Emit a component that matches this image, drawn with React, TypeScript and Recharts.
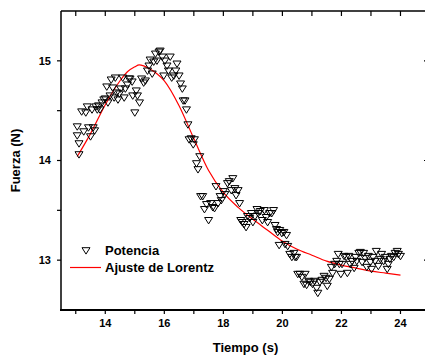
import { ComposedChart, Scatter, Line, XAxis, YAxis, ReferenceLine } from "recharts"

const tiempo = [
  13.05, 13.05, 13.11, 13.11, 13.2, 13.27, 13.34, 13.39, 13.43, 13.5, 13.55, 13.59, 13.64, 13.68, 13.73,
  13.77, 13.82, 13.89, 13.95, 14.0, 14.05, 14.09, 14.16, 14.2, 14.25, 14.3, 14.34, 14.39, 14.43, 14.48,
  14.52, 14.59, 14.64, 14.68, 14.75, 14.8, 14.84, 14.91, 14.93, 15.0, 15.05, 15.09, 15.16, 15.23, 15.3,
  15.36, 15.43, 15.48, 15.52, 15.59, 15.64, 15.7, 15.75, 15.82, 15.86, 15.93, 15.98, 16.02, 16.09, 16.14,
  16.2, 16.25, 16.32, 16.39, 16.43, 16.5, 16.55, 16.61, 16.64, 16.7, 16.75, 16.8, 16.84, 16.91, 16.98,
  17.02, 17.09, 17.14, 17.2, 17.23, 17.3, 17.36, 17.43, 17.5, 17.57, 17.64, 17.7, 17.75, 17.82, 17.89,
  17.93, 18.0, 18.05, 18.14, 18.2, 18.27, 18.32, 18.39, 18.43, 18.5, 18.55, 18.59, 18.64, 18.7, 18.77,
  18.82, 18.89, 18.95, 19.0, 19.07, 19.14, 19.18, 19.25, 19.32, 19.39, 19.45, 19.5, 19.57, 19.64, 19.7,
  19.75, 19.8, 19.84, 19.89, 19.91, 19.98, 20.05, 20.09, 20.14, 20.18, 20.25, 20.32, 20.39, 20.43, 20.48,
  20.52, 20.59, 20.66, 20.73, 20.77, 20.82, 20.89, 20.95, 21.02, 21.09, 21.16, 21.2, 21.27, 21.34, 21.41,
  21.48, 21.52, 21.59, 21.66, 21.7, 21.77, 21.84, 21.89, 21.93, 21.98, 22.02, 22.09, 22.16, 22.2, 22.25,
  22.3, 22.36, 22.43, 22.48, 22.52, 22.59, 22.64, 22.7, 22.75, 22.8, 22.86, 22.91, 22.98, 23.02, 23.07,
  23.14, 23.18, 23.25, 23.32, 23.36, 23.43, 23.48, 23.55, 23.59, 23.64, 23.7, 23.77, 23.82, 23.89, 23.93,
  24.0,
]

const potencia = [
  14.25, 14.34, 14.06, 14.17, 14.49, 14.29, 14.48, 14.54, 14.33, 14.24, 14.51, 14.33, 14.3, 14.54, 14.51,
  14.55, 14.51, 14.58, 14.61, 14.62, 14.74, 14.58, 14.65, 14.81, 14.73, 14.63, 14.83, 14.68, 14.61, 14.67,
  14.72, 14.83, 14.63, 14.72, 14.76, 14.82, 14.82, 14.79, 14.65, 14.48, 14.7, 14.65, 14.58, 14.82, 14.78,
  14.8, 14.9, 14.95, 15.01, 14.87, 14.99, 15.07, 15.0, 15.09, 15.1, 15.04, 14.85, 15.0, 14.95, 14.9,
  15.04, 14.83, 14.85, 14.9, 14.97, 14.85, 14.77, 14.72, 14.6, 14.6, 14.51, 14.36, 14.21, 14.22, 14.16,
  14.21, 13.97, 13.91, 14.04, 13.64, 13.64, 13.51, 13.56, 13.4, 13.57, 13.53, 13.52, 13.74, 13.57, 13.64,
  13.6, 13.69, 13.66, 13.77, 13.79, 13.7, 13.82, 13.72, 13.65, 13.7, 13.57, 13.4, 13.38, 13.36, 13.33,
  13.44, 13.42, 13.47, 13.38, 13.44, 13.51, 13.47, 13.49, 13.4, 13.5, 13.43, 13.38, 13.47, 13.47, 13.5,
  13.35, 13.31, 13.28, 13.15, 13.3, 13.27, 13.28, 13.16, 13.25, 13.14, 13.06, 13.03, 13.07, 13.03, 13.03,
  12.86, 12.86, 12.83, 12.76, 12.86, 12.75, 12.79, 12.78, 12.76, 12.79, 12.72, 12.67, 12.78, 12.8, 12.84,
  12.82, 12.74, 12.81, 12.93, 12.87, 12.96, 12.99, 13.06, 12.96, 12.86, 12.96, 13.04, 13.03, 12.87, 13.04,
  12.96, 12.99, 12.92, 13.03, 12.99, 13.07, 13.08, 12.98, 13.07, 13.02, 12.93, 13.04, 12.98, 12.91, 13.03,
  12.99, 13.09, 12.94, 13.01, 13.06, 12.99, 13.03, 12.91, 12.96, 13.01, 13.04, 13.03, 13.07, 13.09, 13.06,
  13.04,
]

const ajusteX = [
  13.05, 13.5, 14.0, 14.5, 14.75, 15.0, 15.15, 15.3, 15.5, 15.75, 16.0, 16.5, 17.0, 17.5, 18.0, 18.5,
  19.0, 19.5, 20.0, 20.5, 21.0, 21.5, 22.0, 22.5, 23.0, 23.5, 24.0,
]
const ajusteY = [
  14.04, 14.27, 14.56, 14.8, 14.89, 14.94, 14.96, 14.95, 14.92, 14.87, 14.8, 14.55, 14.22, 13.9, 13.68,
  13.53, 13.41, 13.3, 13.19, 13.11, 13.05, 12.99, 12.95, 12.92, 12.89, 12.87, 12.85,
]

const xTicks = [13, 14, 15, 16, 17, 18, 19, 20, 21, 22, 23, 24]
const yTicks = [13, 13.5, 14, 14.5, 15]
const yMajor = [13, 14, 15]
const yMinor = [13.5, 14.5]

const puntos = tiempo.map((t, i) => ({ x: t, y: potencia[i] }))
const ajuste = ajusteX.map((t, i) => ({ x: t, y: ajusteY[i] }))

const font = "'Liberation Sans', Arial, sans-serif"
const tickStyle = { fill: "#000", fontSize: 11, fontWeight: "bold", fontFamily: font }
const blank = () => ""

const Triangle = (props: any) => {
  const { cx, cy } = props
  if (cx == null || cy == null) return null
  return (
    <polygon
      points={`${cx - 4},${cy - 2.8} ${cx + 4},${cy - 2.8} ${cx},${cy + 3.6}`}
      fill="none"
      stroke="#000"
      strokeWidth={1}
    />
  )
}

const LegendBox = () => (
  <div style={{ position: "absolute", left: 66, top: 242, fontFamily: font, fontWeight: "bold", fontSize: 13, color: "#000", lineHeight: "17px" }}>
    <div style={{ display: "flex", alignItems: "center", height: 17 }}>
      <svg width={39} height={17}>
        <polygon points="16,5.7 24,5.7 20,12.1" fill="none" stroke="#000" strokeWidth={1} />
      </svg>
      <span>Potencia</span>
    </div>
    <div style={{ display: "flex", alignItems: "center", height: 17 }}>
      <svg width={39} height={17}>
        <line x1={4} y1={8.5} x2={35} y2={8.5} stroke="#ff0000" strokeWidth={1.2} />
      </svg>
      <span>Ajuste de Lorentz</span>
    </div>
  </div>
)

export default function App() {
  return (
    <div style={{ position: "absolute", left: 0, top: 0, width: 425, height: 356, overflow: "hidden", background: "#fff" }}>
      <ComposedChart width={430} height={356} margin={{ top: 11, right: 0, bottom: 0, left: 10 }}>
        <XAxis
          xAxisId="main"
          type="number"
          dataKey="x"
          domain={[12.5, 25]}
          allowDataOverflow
          ticks={xTicks}
          interval={0}
          tickFormatter={(v: number) => (v % 2 === 0 ? String(v) : "")}
          tick={tickStyle}
          tickSize={4}
          tickMargin={5}
          axisLine={{ stroke: "#000", strokeWidth: 1.5 }}
          tickLine={{ stroke: "#000", strokeWidth: 1.2 }}
          height={46}
          label={{ value: "Tiempo (s)", position: "insideBottom", offset: 4, fill: "#000", fontSize: 13, fontWeight: "bold", fontFamily: font }}
        />
        <XAxis xAxisId="top" orientation="top" type="number" dataKey="x" domain={[12.5, 25]} allowDataOverflow ticks={xTicks} interval={0}
          mirror tickFormatter={blank} tickSize={5} axisLine={false} tickLine={{ stroke: "#000", strokeWidth: 1.2 }} height={1} />
        <YAxis
          yAxisId="main"
          type="number"
          domain={[12.5, 15.5]}
          allowDataOverflow
          ticks={yTicks}
          interval={0}
          tickFormatter={(v: number) => (Number.isInteger(v) ? String(v) : "")}
          tick={tickStyle}
          tickSize={4}
          tickMargin={6}
          axisLine={{ stroke: "#000", strokeWidth: 1.5 }}
          tickLine={{ stroke: "#000", strokeWidth: 1.2 }}
          width={51}
          label={{ value: "Fuerza (N)", angle: -90, position: "center", dx: -20, fill: "#000", fontSize: 13, fontWeight: "bold", fontFamily: font }}
        />
        <YAxis yAxisId="rightMaj" orientation="right" type="number" domain={[12.5, 15.5]} allowDataOverflow ticks={yMajor} interval={0}
          mirror tickFormatter={blank} tickSize={6} axisLine={false} tickLine={{ stroke: "#000", strokeWidth: 1.2 }} width={1} />
        <YAxis yAxisId="rightMin" orientation="right" type="number" domain={[12.5, 15.5]} allowDataOverflow ticks={yMinor} interval={0}
          mirror tickFormatter={blank} tickSize={3} axisLine={false} tickLine={{ stroke: "#000", strokeWidth: 1.2 }} width={1} />
        <ReferenceLine xAxisId="main" yAxisId="main" y={15.5} stroke="#000" strokeWidth={1.5} ifOverflow="visible" />
        <Scatter
          xAxisId="main"
          yAxisId="main"
          name="Potencia"
          data={puntos}
          dataKey="y"
          shape={Triangle}
          isAnimationActive={false}
        />
        <Line
          xAxisId="main"
          yAxisId="main"
          name="Ajuste de Lorentz"
          data={ajuste}
          dataKey="y"
          type="monotone"
          stroke="#ff0000"
          strokeWidth={1.2}
          dot={false}
          activeDot={false}
          isAnimationActive={false}
        />
      </ComposedChart>
      {/* bottom frame edge, drawn over the chart so it always shows */}
      <div style={{ position: "absolute", left: 60, top: 309, width: 370, height: 2, background: "#000" }} />
      <LegendBox />
    </div>
  )
}
